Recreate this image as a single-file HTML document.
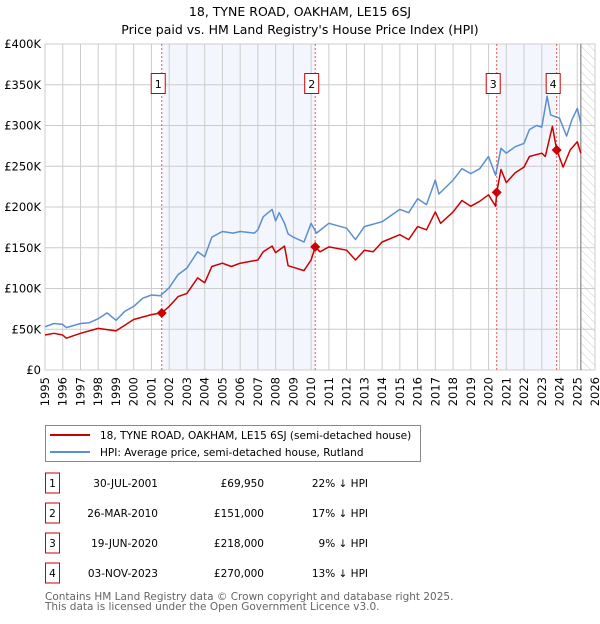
<!DOCTYPE html>
<html><head><meta charset="utf-8"><style>
body{margin:0;background:#fff;font-family:"DejaVu Sans","Liberation Sans",sans-serif;}
svg text{font-family:"DejaVu Sans","Liberation Sans",sans-serif;}
</style></head><body>
<svg id="c" width="600" height="620" xmlns="http://www.w3.org/2000/svg">
<defs><pattern id="hatch" width="6" height="6" patternUnits="userSpaceOnUse" patternTransform="rotate(-45)"><line x1="0" y1="0" x2="0" y2="6" stroke="#ccc" stroke-width="1"/></pattern></defs>
<text x="300" y="16" text-anchor="middle" font-size="12.5">18, TYNE ROAD, OAKHAM, LE15 6SJ</text>
<text x="300" y="34" text-anchor="middle" font-size="12.5">Price paid vs. HM Land Registry's House Price Index (HPI)</text>
<g id="plot"></g>
<g>
<rect x="45.5" y="425.5" width="375" height="36" fill="#fff" stroke="#888"/>
<line x1="50" y1="435" x2="90" y2="435" stroke="#cc0000" stroke-width="2"/>
<text x="100" y="439" font-size="10.5">18, TYNE ROAD, OAKHAM, LE15 6SJ (semi-detached house)</text>
<line x1="50" y1="452" x2="90" y2="452" stroke="#5b8fd0" stroke-width="2"/>
<text x="100" y="456" font-size="10.5">HPI: Average price, semi-detached house, Rutland</text>
</g>
<g id="table" font-size="10.5"></g>
<text x="45" y="600" font-size="10.5" fill="#666">Contains HM Land Registry data © Crown copyright and database right 2025.</text>
<text x="45" y="610" font-size="10.5" fill="#666">This data is licensed under the Open Government Licence v3.0.</text>
</svg>
<script>
const hpiYears=[1995,1995.5,1996,1996.2,1997,1997.5,1998,1998.5,1999,1999.5,2000,2000.5,2001,2001.5,2002,2002.5,2003,2003.6,2004,2004.4,2005,2005.6,2006,2006.8,2007,2007.3,2007.8,2008,2008.2,2008.5,2008.7,2009,2009.6,2010,2010.3,2011,2012,2012.5,2013,2014,2015,2015.5,2016,2016.5,2017,2017.2,2018,2018.5,2019,2019.5,2020,2020.4,2020.7,2021,2021.5,2022,2022.3,2022.7,2023,2023.3,2023.5,2024,2024.4,2024.7,2025,2025.2];
const hpiValues=[53,57,56,52,57,58,63,70,61,72,78,88,92,91,101,117,125,145,139,163,170,168,170,168,172,188,197,183,193,180,167,163,157,180,168,180,174,160,176,182,197,193,210,203,233,216,233,247,241,247,262,239,272,266,274,278,295,300,298,336,313,309,287,307,321,303];
const priceYears=[1995,1995.5,1996,1996.2,1997,1998,1999,1999.5,2000,2001,2001.58,2002,2002.5,2003,2003.6,2004,2004.4,2005,2005.5,2006,2007,2007.3,2007.8,2008,2008.5,2008.7,2009,2009.6,2010,2010.23,2010.5,2011,2012,2012.5,2013,2013.5,2014,2015,2015.5,2016,2016.5,2017,2017.3,2018,2018.5,2019,2019.5,2020,2020.4,2020.46,2020.7,2021,2021.5,2022,2022.3,2023,2023.2,2023.6,2023.84,2024.2,2024.6,2025,2025.2];
const priceValues=[43,45,43,39,45,51,48,55,62,68,70,78,90,94,113,107,127,131,127,131,135,145,152,144,152,128,126,122,135,151,145,151,147,135,147,145,157,166,160,176,172,194,180,194,208,201,207,215,201,218,246,230,242,249,262,266,262,299,270,249,270,280,266];
const saleLabels=["1","2","3","4"];
const saleYears=[2001.58,2010.23,2020.46,2023.84];
const salePrices=[69.95,151,218,270];
const saleDates=["30-JUL-2001","26-MAR-2010","19-JUN-2020","03-NOV-2023"];
const salePriceText=["£69,950","£151,000","£218,000","£270,000"];
const saleDiffs=["22% ↓ HPI","17% ↓ HPI","9% ↓ HPI","13% ↓ HPI"];
const yTicks=[0,50,100,150,200,250,300,350,400];
const yTickLabels=["£0","£50K","£100K","£150K","£200K","£250K","£300K","£350K","£400K"];
const xTicks=[1995,1996,1997,1998,1999,2000,2001,2002,2003,2004,2005,2006,2007,2008,2009,2010,2011,2012,2013,2014,2015,2016,2017,2018,2019,2020,2021,2022,2023,2024,2025,2026];
const dataEnd=2025.2;

const NS="http://www.w3.org/2000/svg";
const L=45,R=595,T=44,B=370;
const xs=y=>L+(y-1995)/(2026-1995)*(R-L);
const ys=v=>B-v/400*(B-T);
const plot=document.getElementById('plot');
function mk(tag,attrs,parent){const e=document.createElementNS(NS,tag);for(const k in attrs)e.setAttribute(k,attrs[k]);(parent||plot).appendChild(e);return e;}

let bg=mk('rect',{x:L,y:T,width:R-L,height:B-T,fill:'#fff'});


for(const [a,b] of [[0,1],[2,3]]){
  const s=mk('rect',{x:xs(saleYears[a]),y:T,width:xs(saleYears[b])-xs(saleYears[a]),height:B-T,fill:'#f3f6fd'});
  
  
}
const h=mk('rect',{x:xs(dataEnd),y:T,width:R-xs(dataEnd),height:B-T,fill:'url(#hatch)'});


yTicks.forEach((v,i)=>{
  const g=mk('line',{x1:L,x2:R,y1:ys(v),y2:ys(v),stroke:'#ccc','stroke-width':1});
  
  
  const t=mk('text',{x:L-4,y:ys(v)+4,'text-anchor':'end','font-size':11.5});
  t.textContent=yTickLabels[i];
  
  
});
xTicks.forEach(y=>{
  const g=mk('line',{x1:xs(y),x2:xs(y),y1:T,y2:B,stroke:'#ccc','stroke-width':1});
  
  
  const t=mk('text',{x:0,y:0,'text-anchor':'end','font-size':11.5,transform:`translate(${xs(y)+4},${B+7}) rotate(-90)`});
  t.textContent=y;
  
  
});
const ax=mk('rect',{x:L,y:T,width:R-L,height:B-T,fill:'none',stroke:'#ccc'});


const el=mk('line',{x1:xs(dataEnd),x2:xs(dataEnd),y1:T,y2:B,stroke:'#888','stroke-width':1.2});


saleYears.forEach((y,i)=>{
  const l=mk('line',{x1:xs(y),x2:xs(y),y1:T,y2:B,stroke:'#ee5555','stroke-width':1,'stroke-dasharray':'2,2'});
  
  
});
function path(xa,va,color,name){
  const d=xa.map((x,i)=>(i?'L':'M')+xs(x).toFixed(1)+','+ys(va[i]).toFixed(1)).join('');
  const p=mk('path',{d,fill:'none',stroke:color,'stroke-width':1.5,'stroke-linejoin':'round'});
  
  
}
path(hpiYears,hpiValues,'#5b8fd0','hpi-line');
path(priceYears,priceValues,'#cc0000','price-paid-line');
saleYears.forEach((y,i)=>{
  const cx=xs(y),cy=ys(salePrices[i]);
  const m=mk('path',{d:`M${cx},${cy-5}L${cx+5},${cy}L${cx},${cy+5}L${cx-5},${cy}Z`,fill:'#cc0000'});
  
  
  const r=mk('rect',{x:cx-10.5,y:73.5,width:14,height:20,fill:'#fff',stroke:'#cc0000'});
  
  
  const t=mk('text',{x:cx-3.5,y:88,'text-anchor':'middle','font-size':11});
  t.textContent=saleLabels[i];
  
  
});
const tb=document.getElementById('table');
saleYears.forEach((y,i)=>{
  const cy=483+i*30;
  const r=mk('rect',{x:45.5,y:cy-10,width:14,height:20,fill:'#fff',stroke:'#cc0000'},tb);
  
  
  const cells=[[52.5,'middle',saleLabels[i]],[158,'end',saleDates[i]],[264,'end',salePriceText[i]],[368,'end',saleDiffs[i]]];
  cells.forEach(([x,a,s],j)=>{
    const t=mk('text',{x,y:cy+4,'text-anchor':a},tb);
    t.textContent=s;
    
    
  });
});
</script>
</body></html>
